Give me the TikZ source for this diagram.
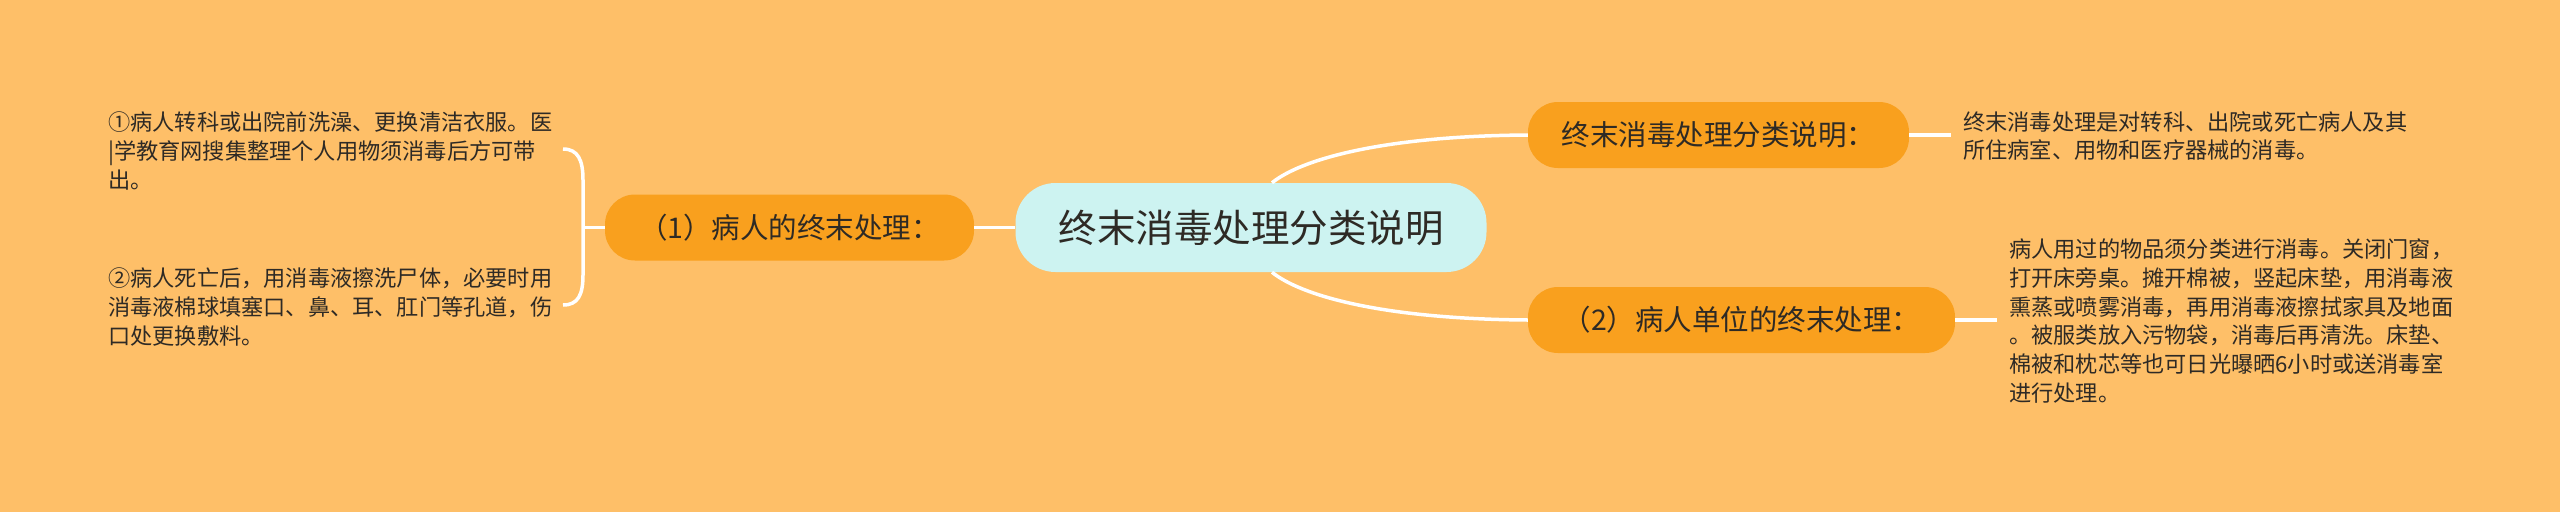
\documentclass[tikz,border=0pt]{standalone}
\usepackage{fontspec}
\setmainfont{Noto Sans CJK SC}
\definecolor{bg}{HTML}{FEBF68}
\definecolor{org}{HTML}{F9A01E}
\definecolor{cyanfill}{HTML}{CDF3F1}
\definecolor{txt}{HTML}{2E2A25}
\begin{document}
\begin{tikzpicture}[x=1pt,y=-1pt,
  link/.style={draw=white,line width=3.5pt},
  central/.style={fill=cyanfill,rounded corners=40pt,minimum width=471pt,minimum height=89pt,inner sep=0pt,text=txt,font=\fontsize{38.5}{44}\selectfont},
  topic/.style={fill=org,rounded corners=30pt,minimum height=66pt,inner sep=0pt,text=txt,font=\fontsize{28.5}{32}\selectfont},
  leaf/.style={anchor=west,align=left,inner sep=0pt,text=txt,font=\fontsize{22.2}{28.7}\selectfont}]
\useasboundingbox (0,0) rectangle (2560,512);
\fill[bg] (0,0) rectangle (2560,512);
% nodes
\node[central] (c) at (1251,227.5) {终末消毒处理分类说明};
\node[topic,minimum width=369pt] (l) at (789.5,227.5) {（1）病人的终末处理：};
\node[topic,minimum width=381pt] (t) at (1718.5,135) {终末消毒处理分类说明：};
\node[topic,minimum width=427pt] (b) at (1741.5,320) {（2）病人单位的终末处理：};
\node[leaf] (lt1) at (108,151) {①病人转科或出院前洗澡、更换清洁衣服。医\\|学教育网搜集整理个人用物须消毒后方可带\\出。};
\node[leaf] (lt2) at (108,307) {②病人死亡后，用消毒液擦洗尸体，必要时用\\消毒液棉球填塞口、鼻、耳、肛门等孔道，伤\\口处更换敷料。};
\node[leaf] (rt1) at (1963,136) {终末消毒处理是对转科、出院或死亡病人及其\\所住病室、用物和医疗器械的消毒。};
\node[leaf] (rt2) at (2009,321) {病人用过的物品须分类进行消毒。关闭门窗，\\打开床旁桌。摊开棉被，竖起床垫，用消毒液\\熏蒸或喷雾消毒，再用消毒液擦拭家具及地面\\。被服类放入污物袋，消毒后再清洗。床垫、\\棉被和枕芯等也可日光曝晒6小时或送消毒室\\进行处理。};
% coordinates
\coordinate (ctop) at ([xshift=21pt]c.north);
\coordinate (cbot) at ([xshift=21pt]c.south);
\coordinate (tend) at (1951,135);
\coordinate (bend) at (1997,320);
\coordinate (bm) at (583,227.5);
\coordinate (bra1) at (563,149);
\coordinate (bra2) at (563,305);
% connectors
\draw[link] (l.east) -- (c.west);
\draw[link] (ctop) .. controls (1300,160) and (1380,136) .. (t.west);
\draw[link] (cbot) .. controls (1300,295) and (1380,319) .. (b.west);
\draw[link] (t.east) -- (tend);
\draw[link] (b.east) -- (bend);
\draw[link] (l.west) -- (bm);
\draw[link] (bra1) .. controls (578,149) and (583,160) .. (583,180) -- (583,275) .. controls (583,295) and (578,305) .. (bra2);
\end{tikzpicture}
\end{document}
